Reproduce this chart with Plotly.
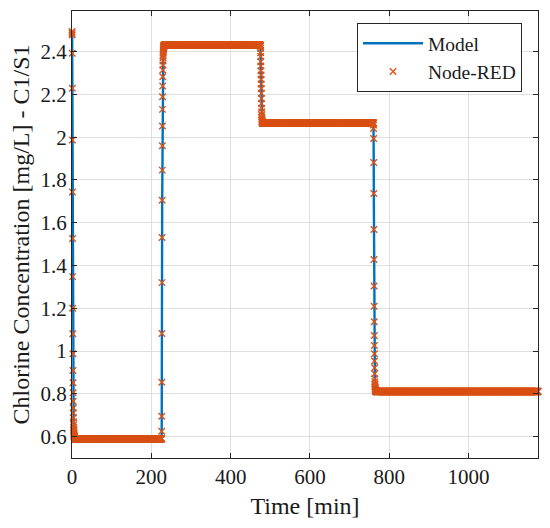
import numpy as np
import plotly.graph_objects as go

# minutes at which the set point changes, and the end of the run
STEP_TIMES = [0, 226, 475, 760]
END_TIME = 1175
SAMPLE_STEP = 0.2

# steady levels after each change [mg/L]
LEVELS = [0.59, 2.43, 2.066, 0.811]

# samples read along each transition [mg/L]
DROP_1 = [2.494, 2.486, 2.478, 2.392, 2.229, 1.987, 1.744, 1.526, 1.348, 1.200,
          1.081, 0.987, 0.909, 0.852, 0.805, 0.765, 0.734, 0.711, 0.688, 0.670,
          0.655, 0.643, 0.633, 0.625, 0.618, 0.613, 0.609, 0.605, 0.602, 0.600,
          0.598, 0.596, 0.595, 0.594, 0.593, 0.592, 0.591]
RISE_2 = [0.591, 0.625, 0.695, 0.854, 1.082, 1.320, 1.531, 1.705, 1.846, 1.960,
          2.052, 2.130, 2.189, 2.239, 2.283, 2.314, 2.337, 2.356, 2.371, 2.383,
          2.392, 2.400, 2.406, 2.411, 2.415, 2.418, 2.420, 2.422, 2.424, 2.426,
          2.427, 2.428, 2.429]
DROP_3 = [2.430, 2.425, 2.416, 2.395, 2.377, 2.353, 2.333, 2.311, 2.291, 2.271,
          2.249, 2.228, 2.205, 2.181, 2.158, 2.135, 2.119, 2.105, 2.095, 2.087,
          2.081, 2.076, 2.073, 2.071, 2.069, 2.068, 2.067]
DROP_4 = [2.066, 2.057, 2.041, 1.994, 1.882, 1.737, 1.568, 1.428, 1.304, 1.210,
          1.137, 1.073, 1.026, 0.987, 0.953, 0.922, 0.894, 0.870, 0.856, 0.846,
          0.838, 0.832, 0.827, 0.823, 0.820, 0.818, 0.816, 0.815, 0.814, 0.813,
          0.812]

X_TICKS = [0, 200, 400, 600, 800, 1000]
Y_TICKS = [0.6, 0.8, 1.0, 1.2, 1.4, 1.6, 1.8, 2.0, 2.2, 2.4]
Y_TICK_TEXT = ['0.6', '0.8', '1', '1.2', '1.4', '1.6', '1.8', '2', '2.2', '2.4']

BLUE = '#0072BD'
ORANGE = '#D95319'
AXIS = '#262626'
TEXT = '#1a1a1a'
GRID = '#dfdfdf'
FONT = 'Liberation Serif'


def build_series():
    time = np.arange(0, END_TIME + SAMPLE_STEP / 2, SAMPLE_STEP)
    bounds = STEP_TIMES + [END_TIME + SAMPLE_STEP]
    values = []

    for i, transition in enumerate([DROP_1, RISE_2, DROP_3, DROP_4]):
        n = int(round((bounds[i + 1] - bounds[i]) / SAMPLE_STEP))
        values += transition + [LEVELS[i]] * (n - len(transition))

    return time, np.array(values[:len(time)])


time, concentration = build_series()

fig = go.Figure()

fig.add_trace(
    go.Scatter(
        x = time,
        y = concentration,
        mode = 'lines',
        name = 'Model',
        line = dict(color = BLUE, width = 2.4)
    )
)

fig.add_trace(
    go.Scatter(
        x = time,
        y = concentration,
        mode = 'markers',
        name = 'Node-RED',
        cliponaxis = False,
        marker = dict(
            symbol = 'x-thin',
            size = 6.5,
            color = ORANGE,
            line = dict(color = ORANGE, width = 1.4)
        )
    )
)

axis_style = dict(
    title_font = dict(family = FONT, size = 24, color = TEXT),
    tickfont = dict(family = FONT, size = 21, color = TEXT),
    showline = True,
    linecolor = AXIS,
    linewidth = 1,
    mirror = 'ticks',
    ticks = 'inside',
    ticklen = 5,
    tickcolor = AXIS,
    showgrid = True,
    gridcolor = GRID,
    zeroline = False,
    automargin = False
)

fig.update_xaxes(
    range = [0, END_TIME],
    tickvals = X_TICKS,
    title_text = 'Time [min]',
    title_standoff = 8,
    **axis_style
)

fig.update_yaxes(
    range = [0.5, 2.59],
    tickvals = Y_TICKS,
    ticktext = Y_TICK_TEXT,
    title_text = 'Chlorine Concentration [mg/L] - C1/S1',
    title_standoff = 9,
    **axis_style
)

# the page body adds 8 px on the left and top, so the margins allow for it
fig.update_layout(
    width = 550,
    height = 528,
    margin = dict(l = 64, r = 20, t = 3, b = 78),
    plot_bgcolor = 'white',
    paper_bgcolor = 'white',
    font = dict(family = FONT, color = TEXT),
    legend = dict(
        x = 0.9657,
        y = 0.973,
        xanchor = 'right',
        yanchor = 'top',
        bgcolor = 'white',
        bordercolor = AXIS,
        borderwidth = 1,
        itemwidth = 60,
        font = dict(family = FONT, size = 19.5, color = TEXT)
    )
)

fig.write_html('out.html')
